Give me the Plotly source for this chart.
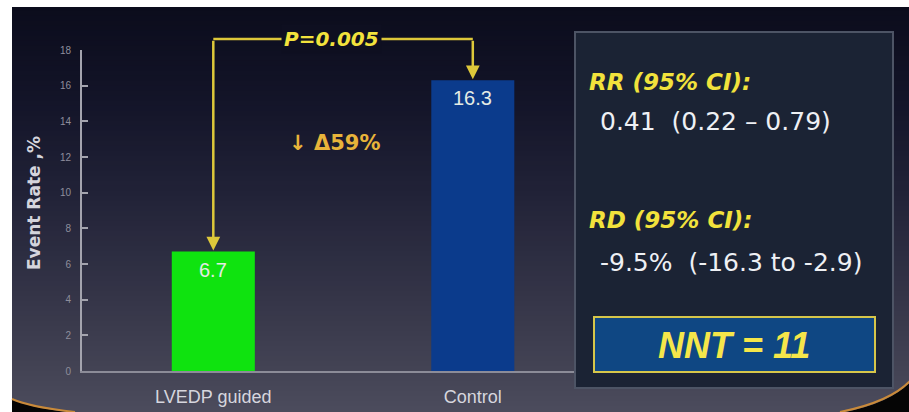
import plotly.graph_objects as go

# ---- data -------------------------------------------------------------
categories = ["LVEDP guided", "Control"]
event_rates = [6.7, 16.3]
bar_colors = ["#0fe30f", "#0b3b8c"]
y_ticks = [0, 2, 4, 6, 8, 10, 12, 14, 16, 18]
p_value_text = "P=0.005"
reduction_text = "\u2193 \u039459%"
rr_label = "RR (95% CI):"
rr_value = "0.41\u00a0\u00a0(0.22 \u2013 0.79)"
rd_label = "RD (95% CI):"
rd_value = "-9.5%\u00a0\u00a0(-16.3 to -2.9)"
nnt_text = "NNT = 11"

W, H = 909, 412


def px(x):
    return x / W


def py(y):
    return 1 - y / H


YELLOW = "#f2e23c"
LINE_YELLOW = "#ddc83a"

fig = go.Figure()
fig.add_trace(go.Bar(
    x=categories, y=event_rates, marker=dict(color=bar_colors, line=dict(width=0)),
    width=0.32, hoverinfo="skip",
))

shapes = []

# slide background: vertical gradient built from overlapping strips
stops = [(7, (11, 12, 28)), (100, (19, 20, 40)), (200, (34, 35, 56)),
         (300, (53, 53, 72)), (380, (69, 69, 86)), (412, (76, 76, 92))]


def bg_color(y):
    for (a, ca), (b, cb) in zip(stops[:-1], stops[1:]):
        if a <= y <= b:
            t = (y - a) / (b - a)
            return tuple(round(ca[k] + (cb[k] - ca[k]) * t) for k in range(3))
    return stops[-1][1]


n = 81
step = (H - 7) / n
for i in range(n):
    y0 = 7 + step * i
    c = bg_color(y0 + step / 2)
    top = y0 if i == 0 else y0 - 1.5
    shapes.append(dict(type="rect", xref="paper", yref="paper", layer="below",
                       x0=px(12), x1=1, y0=max(0.0, py(y0 + step + 1.5)), y1=py(top),
                       fillcolor="rgb(%d,%d,%d)" % c, line=dict(width=0)))


# rounded slide corners at the bottom edge
def path_pts(pts, close=True):
    s = "M %f,%f " % (px(pts[0][0]), py(pts[0][1]))
    s += "Q %f,%f %f,%f " % (px(pts[1][0]), py(pts[1][1]), px(pts[2][0]), py(pts[2][1]))
    for p in pts[3:]:
        s += "L %f,%f " % (px(p[0]), py(p[1]))
    return s + ("Z" if close else "")


shapes.append(dict(type="path", xref="paper", yref="paper", layer="below",
                   path=path_pts([(12, 399), (30, 408), (75, 413), (12, 413)]),
                   fillcolor="#050505", line=dict(width=0)))
shapes.append(dict(type="path", xref="paper", yref="paper", layer="below",
                   path=path_pts([(12, 399), (30, 407), (75, 412)], close=False),
                   line=dict(color="#c98a3a", width=2)))
shapes.append(dict(type="path", xref="paper", yref="paper", layer="below",
                   path=path_pts([(840, 413), (890, 404), (910, 382), (910, 413)]),
                   fillcolor="#050505", line=dict(width=0)))
shapes.append(dict(type="path", xref="paper", yref="paper", layer="below",
                   path=path_pts([(840, 412), (890, 402), (910, 381)], close=False),
                   line=dict(color="#c98a3a", width=2)))

# statistics panel
shapes.append(dict(type="rect", xref="paper", yref="paper", layer="below",
                   x0=px(575), x1=px(893), y0=py(388), y1=py(32),
                   fillcolor="#1b2334", line=dict(color="#4d5465", width=2)))
shapes.append(dict(type="rect", xref="paper", yref="paper", layer="below",
                   x0=px(594), x1=px(875), y0=py(372), y1=py(317),
                   fillcolor="#0f4783", line=dict(color="#d6c64a", width=2)))

# significance bracket between the two bars
bracket_px = 39
bracket_y = py(bracket_px)
shapes.append(dict(type="line", xref="x", yref="paper", layer="above",
                   x0=categories[0], x1=categories[1], y0=bracket_y, y1=bracket_y,
                   line=dict(color=LINE_YELLOW, width=2.5)))

annotations = []
bracket_level = 18.6
for cat, val in zip(categories, event_rates):
    annotations.append(dict(x=cat, y=val, xref="x", yref="y", text="",
                            showarrow=True, ax=cat, ay=bracket_level,
                            axref="x", ayref="y", arrowhead=2, arrowsize=1.1,
                            arrowwidth=2.5, arrowcolor=LINE_YELLOW, standoff=1))
    annotations.append(dict(x=cat, y=val, xref="x", yref="y", text=f"{val:g}",
                            showarrow=False, xanchor="center", yanchor="top", yshift=-5,
                            font=dict(family="Liberation Sans", size=20, color="#e4ebe4")))


def note(x, y, text, size, color, family="DejaVu Sans", xanchor="left", **kw):
    annotations.append(dict(x=px(x), y=py(y), xref="paper", yref="paper",
                            xanchor=xanchor, yanchor="middle", text=text,
                            showarrow=False,
                            font=dict(family=family, size=size, color=color), **kw))


note(331, bracket_px, f"<b><i>{p_value_text}</i></b>", 20, YELLOW, xanchor="center",
     bgcolor="rgb(%d,%d,%d)" % bg_color(bracket_px), borderpad=2)
note(334, 143, f"<b>{reduction_text}</b>", 21, "#e8b43a", xanchor="center")
note(34, 203, "<b>Event Rate ,%</b>", 17, "#d4d4dc", xanchor="center", textangle=-90)

# panel text
note(587, 82, f"<b><i>{rr_label}</i></b>", 23, YELLOW)
note(598, 122, rr_value, 25, "#eef0f4")
note(587, 220, f"<b><i>{rd_label}</i></b>", 23, YELLOW)
note(598, 262, rd_value, 25, "#eef0f4")
note(734, 345, f"<b><i>{nnt_text}</i></b>", 36, "#f5e64a", family="Liberation Sans",
     xanchor="center")

fig.update_layout(
    width=W, height=H,
    margin=dict(l=0, r=0, t=0, b=0, autoexpand=False),
    paper_bgcolor="#ffffff",
    plot_bgcolor="rgba(0,0,0,0)",
    showlegend=False,
    shapes=shapes,
    annotations=annotations,
    xaxis=dict(domain=[px(82), px(574)], range=[-0.506, 1.39], automargin=False,
               showline=True, linecolor="#8c8c98", linewidth=2,
               showgrid=False, zeroline=False, ticks="",
               ticklabelstandoff=8,
               tickfont=dict(family="Liberation Sans", size=18, color="#d6d6de")),
    yaxis=dict(domain=[py(371), py(50)], range=[0, 18], automargin=False,
               tickvals=y_ticks, ticktext=[str(v) for v in y_ticks],
               showline=True, linecolor="#a4a4ae", linewidth=2,
               showgrid=False, zeroline=False,
               ticks="inside", ticklen=6, tickwidth=1.5, tickcolor="#a4a4ae",
               ticklabelstandoff=7,
               tickfont=dict(family="Liberation Sans", size=10, color="#8e8e9c")),
)

fig.write_html("out.html")
